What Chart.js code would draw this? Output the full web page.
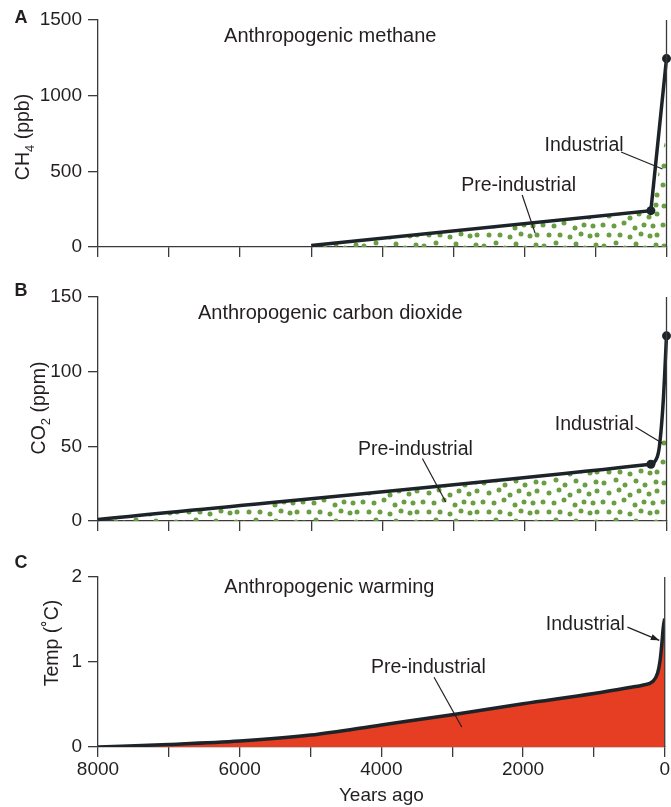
<!DOCTYPE html>
<html>
<head>
<meta charset="utf-8">
<script src="https://cdn.jsdelivr.net/npm/chart.js@4.4.0/dist/chart.umd.min.js"></script>
<style>
  body { margin: 0; background: #fff; }
  #wrap { position: relative; width: 671px; height: 807px; }
  .panel { position: absolute; left: 0; width: 671px; }
</style>
</head>
<body>
<div id="wrap">
  <div class="panel" style="top:0"><canvas id="chartA" width="671" height="267"></canvas></div>
  <div class="panel" style="top:277px"><canvas id="chartB" width="671" height="264"></canvas></div>
  <div class="panel" style="top:547px"><canvas id="chartC" width="671" height="260"></canvas></div>
</div>
<script>
// years ago (x) and values
const methaneYears = [5000, 220, 0];
const methanePpb = [10, 240, 1245];
const methaneDotsYears = [5000, 220, 0];
const methaneDotsPpb = [10, 240, 750];

const co2Years = [8000, 220, 130, 90, 45, 0];
const co2Ppm = [1, 38, 43, 54, 81, 124];
const co2DotsYears = [8000, 220, 90, 0];
const co2DotsPpm = [1, 37, 50, 66];

const tempYears = [8000, 7000, 6000, 5000, 4000, 3000, 2000, 1000, 500, 300, 170, 100, 65, 40, 20, 0];
const tempC = [0, 0.03, 0.07, 0.14, 0.26, 0.38, 0.51, 0.63, 0.70, 0.73, 0.77, 0.87, 1.02, 1.22, 1.41, 1.51];

const xTicks = [8000, 7000, 6000, 5000, 4000, 3000, 2000, 1000, 0];

const FONT = '"Liberation Sans", Arial, sans-serif';
const INK = '#231f20';
const AXIS = '#3a3a3a';
const LINE = '#1d2429';
const GREEN = '#6a9e43';
const RED = '#e53e23';

function toPoints(xs, ys) {
  return xs.map((x, i) => ({ x, y: ys[i] }));
}

function makeStipple() {
  const tile = document.createElement('canvas');
  tile.width = 60;
  tile.height = 40;
  const c = tile.getContext('2d');
  c.fillStyle = GREEN;
  const spots = [
    [4,6],[16,3],[25,8],[36,4],[45,8],[56,5],
    [9,16],[19,13],[30,18],[39,14],[49,17],[57,14],
    [3,25],[14,26],[24,23],[35,28],[44,25],[53,26],
    [9,35],[20,35],[30,37],[41,34],[50,36],[57,35]
  ];
  spots.forEach(([sx, sy]) => {
    c.beginPath();
    c.arc(sx, sy, 2.5, 0, Math.PI * 2);
    c.fill();
  });
  return c.createPattern(tile, 'repeat');
}

// y title made of pieces so the chemical subscript sits lower and smaller
function drawYTitle(ctx, parts, cx, cy) {
  ctx.save();
  ctx.translate(cx, cy);
  ctx.rotate(-Math.PI / 2);
  ctx.textAlign = 'left';
  ctx.textBaseline = 'middle';
  let total = 0;
  parts.forEach(p => {
    ctx.font = (p.sub ? '13px ' : '19.5px ') + FONT;
    total += ctx.measureText(p.t).width;
  });
  let x = -total / 2;
  parts.forEach(p => {
    ctx.font = (p.sub ? '13px ' : '19.5px ') + FONT;
    ctx.fillText(p.t, x, p.sub ? 6 : 0);
    x += ctx.measureText(p.t).width;
  });
  ctx.restore();
}

const panelText = {
  id: 'panelText',
  afterDraw(chart, args, opts) {
    const { ctx, chartArea, scales } = chart;
    ctx.save();
    // right frame line
    ctx.strokeStyle = AXIS;
    ctx.lineWidth = 1.3;
    ctx.beginPath();
    ctx.moveTo(chartArea.right, chartArea.top);
    ctx.lineTo(chartArea.right, chartArea.bottom);
    ctx.stroke();

    ctx.fillStyle = INK;
    ctx.textBaseline = 'middle';
    ctx.textAlign = 'center';
    ctx.font = 'bold 18px ' + FONT;
    ctx.fillText(opts.letter, 21, opts.letterY);

    ctx.font = '20px ' + FONT;
    ctx.fillText(opts.title, (chartArea.left + chartArea.right) / 2 - 52, chartArea.top + opts.titleDy);

    drawYTitle(ctx, opts.yTitle, opts.yTitleX, opts.yTitleY);

    ctx.font = '19.5px ' + FONT;
    ctx.textAlign = 'center';
    ctx.textBaseline = 'middle';
    opts.notes.forEach(n => {
      const px = v => scales.x.getPixelForValue(v);
      const py = v => scales.y.getPixelForValue(v);
      ctx.fillText(n.text, px(n.x), py(n.y));
      const x1 = px(n.line[0]), y1 = py(n.line[1]);
      const x2 = px(n.line[2]), y2 = py(n.line[3]);
      ctx.strokeStyle = INK;
      ctx.lineWidth = 1.2;
      ctx.beginPath();
      ctx.moveTo(x1, y1);
      ctx.lineTo(x2, y2);
      ctx.stroke();
      if (n.arrow) {
        const a = Math.atan2(y2 - y1, x2 - x1);
        ctx.beginPath();
        ctx.moveTo(x2, y2);
        ctx.lineTo(x2 - 9 * Math.cos(a - 0.35), y2 - 9 * Math.sin(a - 0.35));
        ctx.lineTo(x2 - 9 * Math.cos(a + 0.35), y2 - 9 * Math.sin(a + 0.35));
        ctx.closePath();
        ctx.fill();
      }
    });
    ctx.restore();
  }
};

function makePanel(id, cfg) {
  const tickFont = { family: FONT, size: 19 };
  new Chart(document.getElementById(id), {
    type: 'line',
    data: { datasets: cfg.datasets },
    options: {
      responsive: false,
      animation: false,
      layout: { padding: { top: cfg.padTop, right: 2, left: 0, bottom: 0 } },
      plugins: {
        legend: { display: false },
        tooltip: { enabled: false },
        panelText: {
          letter: cfg.letter, letterY: cfg.letterY, title: cfg.title, titleDy: cfg.titleDy,
          yTitle: cfg.yTitle, yTitleX: cfg.yTitleX, yTitleY: cfg.yTitleY, notes: cfg.notes
        }
      },
      scales: {
        x: {
          type: 'linear',
          min: 0,
          max: 8000,
          reverse: true,
          afterBuildTicks: s => { s.ticks = xTicks.map(v => ({ value: v })); },
          afterFit: s => { s.height = cfg.xHeight; },
          border: { color: AXIS, width: 1.3 },
          grid: { drawOnChartArea: false, tickLength: 10, color: AXIS, lineWidth: 1.3 },
          ticks: {
            display: cfg.xLabels,
            autoSkip: false,
            maxRotation: 0,
            padding: 1,
            font: tickFont,
            color: INK,
            callback: v => (v % 2000 === 0 ? String(v) : '')
          },
          title: {
            display: cfg.xLabels,
            text: 'Years ago',
            font: tickFont,
            color: INK,
            padding: { top: 0, bottom: 0 }
          }
        },
        y: {
          min: 0,
          max: cfg.yMax,
          afterFit: s => { s.width = 98; },
          border: { color: AXIS, width: 1.3 },
          grid: { drawOnChartArea: false, tickLength: 10, color: AXIS, lineWidth: 1.3 },
          ticks: { stepSize: cfg.yStep, padding: 6, font: tickFont, color: INK, callback: v => String(v) },
          title: { display: false }
        }
      }
    },
    plugins: [panelText]
  });
}

document.addEventListener('DOMContentLoaded', () => {
  const stipple = makeStipple();

  makePanel('chartA', {
    padTop: 20, xHeight: 20, xLabels: false,
    yMax: 1500, yStep: 500,
    yTitle: [{ t: 'CH' }, { t: '4', sub: true }, { t: ' (ppb)' }], yTitleX: 24, yTitleY: 137,
    letter: 'A', letterY: 18, title: 'Anthropogenic methane', titleDy: 16,
    notes: [
      { text: 'Industrial', x: 1160, y: 667, line: [640, 628, 56, 515] },
      { text: 'Pre-industrial', x: 2080, y: 403, line: [2031, 344, 1849, 92] }
    ],
    datasets: [
      {
        data: toPoints(methaneYears, methanePpb),
        borderColor: LINE, borderWidth: 3.5, fill: false, clip: false,
        pointRadius: [0, 4.5, 4.5], pointBackgroundColor: LINE, pointBorderWidth: 0
      },
      {
        data: toPoints(methaneDotsYears, methaneDotsPpb),
        borderWidth: 0, pointRadius: 0, fill: 'origin', backgroundColor: stipple
      }
    ]
  });

  makePanel('chartB', {
    padTop: 20, xHeight: 20, xLabels: false,
    yMax: 150, yStep: 50,
    yTitle: [{ t: 'CO' }, { t: '2', sub: true }, { t: ' (ppm)' }], yTitleX: 40, yTitleY: 131,
    letter: 'B', letterY: 14, title: 'Anthropogenic carbon dioxide', titleDy: 16,
    notes: [
      { text: 'Industrial', x: 1016, y: 64.8, line: [437, 63, 59, 52] },
      { text: 'Pre-industrial', x: 3533, y: 48, line: [3435, 41.8, 3106, 12.7] }
    ],
    datasets: [
      {
        data: toPoints(co2Years, co2Ppm),
        borderColor: LINE, borderWidth: 3.5, fill: false, clip: false, tension: 0.3,
        pointRadius: [0, 4.5, 0, 0, 0, 4.5], pointBackgroundColor: LINE, pointBorderWidth: 0
      },
      {
        data: toPoints(co2DotsYears, co2DotsPpm),
        borderWidth: 0, pointRadius: 0, fill: 'origin', backgroundColor: stipple
      }
    ]
  });

  makePanel('chartC', {
    padTop: 30, xHeight: 60, xLabels: true,
    yMax: 2, yStep: 1,
    yTitle: [{ t: 'Temp (˚C)' }], yTitleX: 53, yTitleY: 96,
    letter: 'C', letterY: 16, title: 'Anthropogenic warming', titleDy: 10,
    notes: [
      { text: 'Industrial', x: 1120, y: 1.44, line: [527, 1.41, 77, 1.255], arrow: true },
      { text: 'Pre-industrial', x: 3337, y: 0.93, line: [3256, 0.82, 2865, 0.235] }
    ],
    datasets: [
      {
        data: toPoints(tempYears, tempC),
        borderColor: LINE, borderWidth: 3.5, fill: 'origin', backgroundColor: RED,
        cubicInterpolationMode: 'monotone', pointRadius: 0
      }
    ]
  });
});
</script>
</body>
</html>
